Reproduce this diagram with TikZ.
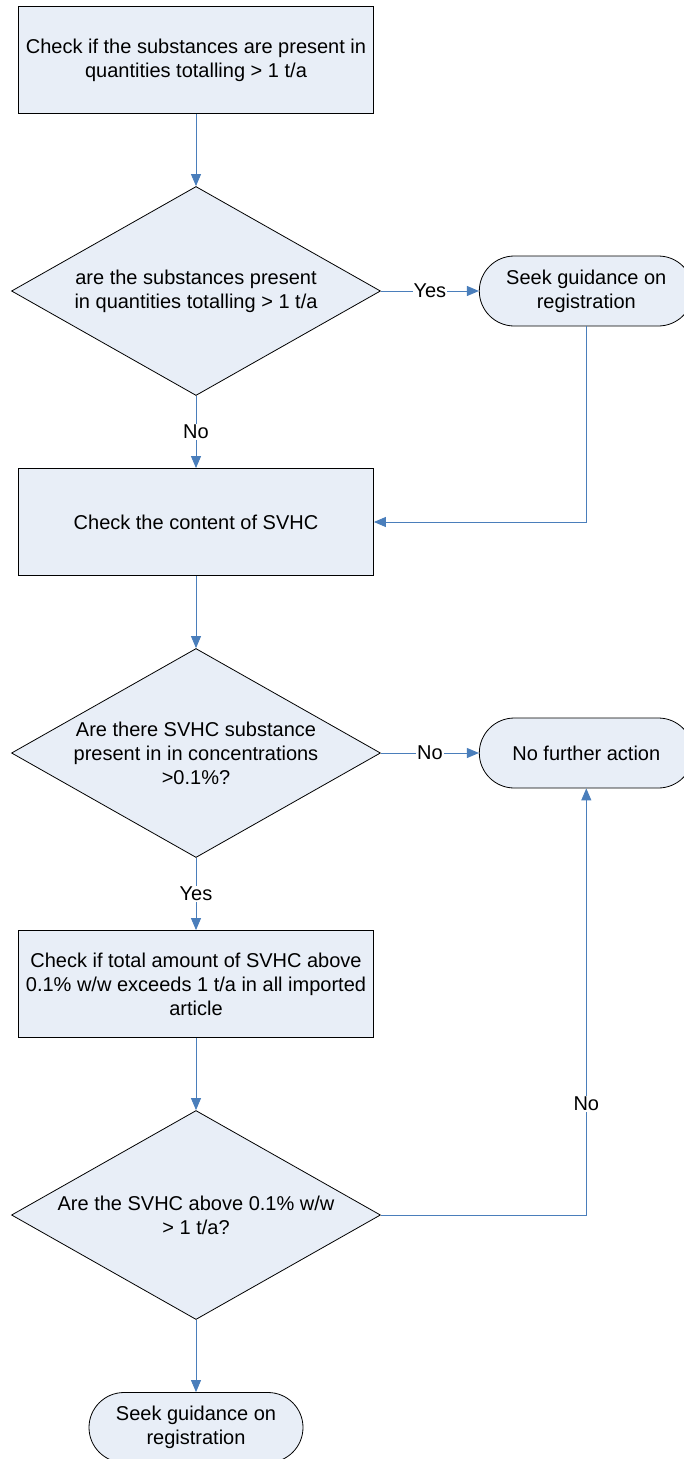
\documentclass[tikz,border=0pt]{standalone}
\usepackage{fontspec}
\setmainfont{Liberation Sans}
\usetikzlibrary{positioning, shapes.geometric, arrows.meta}
\definecolor{boxfill}{HTML}{E8EEF7}
\definecolor{flowblue}{HTML}{4A7EBB}

\begin{document}
\begin{tikzpicture}[node distance=72.2pt, every node/.style={font=\fontsize{20}{24}\selectfont, align=center},
        process/.style={rectangle, draw, line width=0.8pt, fill=boxfill, inner sep=2pt, minimum width=355pt, minimum height=107pt},
        decision/.style={diamond, draw, line width=0.8pt, fill=boxfill, aspect=1.766, inner sep=0pt, minimum width=369pt, minimum height=209pt},
        terminal/.style={rectangle, rounded corners=35pt, draw, line width=0.8pt, fill=boxfill, minimum width=214pt, minimum height=70pt},
        flow/.style={draw=flowblue, line width=0.9pt, -{Triangle[length=12pt, width=10pt]}},
        answer/.style={fill=white, inner sep=1pt}]
        \useasboundingbox (0,0) rectangle (683pt,-1459pt); % page size

        \node (check1) [process] at (196pt,-60pt) {Check if the substances are present in\\quantities totalling > 1 t/a}; % first check
        \node (ask1) [decision, below=of check1] {are the substances present\\in quantities totalling > 1 t/a}; % more than 1 t/a?
        \node (seek1) [terminal, right=98pt of ask1] {Seek guidance on\\registration}; % register
        \node (check2) [process, below=of ask1] {Check the content of SVHC}; % SVHC content
        \node (ask2) [decision, below=of check2] {Are there SVHC substance\\present in in concentrations\\>0.1\%?}; % above 0.1%?
        \node (stop) [terminal, right=98pt of ask2] {No further action}; % nothing to do
        \node (check3) [process, below=of ask2] {Check if total amount of SVHC above\\0.1\% w/w exceeds 1 t/a in all imported\\article}; % total amount
        \node (ask3) [decision, below=of check3] {Are the SVHC above 0.1\% w/w\\> 1 t/a?}; % more than 1 t/a?
        \node (seek2) [terminal, below=of ask3] {Seek guidance on\\registration}; % register

        % Plain flow down the page
        \foreach \i/\j in {check1/ask1, check2/ask2, check3/ask3, ask3/seek2} {
            \draw[flow] (\i) -- (\j);
        }

        % Answers
        \draw[flow] (ask1) -- node[answer] {Yes} (seek1);
        \draw[flow] (ask1) -- node[answer] {No} (check2);
        \draw[flow] (seek1) |- (check2);
        \draw[flow] (ask2) -- node[answer] {No} (stop);
        \draw[flow] (ask2) -- node[answer] {Yes} (check3);
        \draw[flow] (ask3) -| node[answer, pos=0.63] {No} (stop);
\end{tikzpicture}
\end{document}
